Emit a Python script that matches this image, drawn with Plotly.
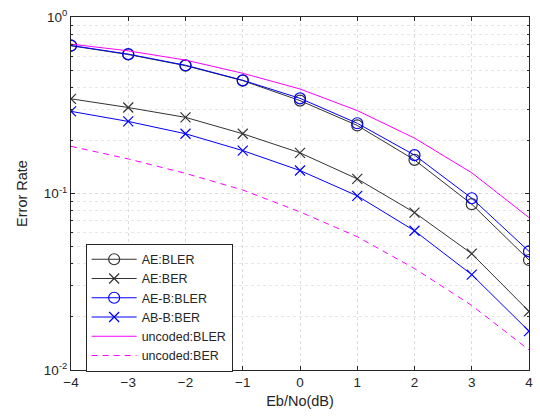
import plotly.graph_objects as go

ebno = [-4, -3, -2, -1, 0, 1, 2, 3, 4]
ae_bler = [0.687, 0.613, 0.530, 0.436, 0.336, 0.243, 0.155, 0.087, 0.042]
ae_ber = [0.344, 0.307, 0.270, 0.218, 0.170, 0.121, 0.078, 0.0456, 0.0215]
aeb_bler = [0.690, 0.616, 0.533, 0.438, 0.346, 0.250, 0.165, 0.094, 0.047]
aeb_ber = [0.292, 0.256, 0.218, 0.175, 0.135, 0.097, 0.0615, 0.0347, 0.0166]
unc_bler = [0.702, 0.643, 0.570, 0.480, 0.391, 0.295, 0.206, 0.131, 0.073]
unc_ber = [0.185, 0.157, 0.130, 0.1047, 0.0787, 0.0569, 0.0376, 0.0232, 0.013]

xticks = [-4, -3, -2, -1, 0, 1, 2, 3, 4]
yticks = [0.01, 0.1, 1]
yticktext = ["10<sup>-2</sup>", "10<sup>-1</sup>", "10<sup>0</sup>"]

black = "#333333"
fig = go.Figure()
fig.add_trace(go.Scatter(x=ebno, y=ae_bler, name="AE:BLER", mode="lines+markers",
                         line=dict(color=black, width=1),
                         marker=dict(symbol="circle-open", size=11, color=black, line=dict(width=1.2))))
fig.add_trace(go.Scatter(x=ebno, y=ae_ber, name="AE:BER", mode="lines+markers",
                         line=dict(color=black, width=1),
                         marker=dict(symbol="x-thin-open", size=10, color=black, line=dict(width=1.2, color=black))))
fig.add_trace(go.Scatter(x=ebno, y=aeb_bler, name="AE-B:BLER", mode="lines+markers",
                         line=dict(color="#0000ff", width=1),
                         marker=dict(symbol="circle-open", size=11, color="#0000ff", line=dict(width=1.2))))
fig.add_trace(go.Scatter(x=ebno, y=aeb_ber, name="AB-B:BER", mode="lines+markers",
                         line=dict(color="#0000ff", width=1),
                         marker=dict(symbol="x-thin-open", size=10, color="#0000ff", line=dict(width=1.2, color="#0000ff"))))
fig.add_trace(go.Scatter(x=ebno, y=unc_bler, name="uncoded:BLER", mode="lines",
                         line=dict(color="#ff00ff", width=1)))
fig.add_trace(go.Scatter(x=ebno, y=unc_ber, name="uncoded:BER", mode="lines",
                         line=dict(color="#ff00ff", width=1, dash="6px,5px")))

font = dict(family="Liberation Sans, Arial, sans-serif", size=13.5, color="#262626")
fig.update_layout(
    width=540, height=418,
    margin=dict(l=71, r=7, t=15, b=48),
    paper_bgcolor="white", plot_bgcolor="white",
    font=font,
    showlegend=True,
    legend=dict(x=0.032, y=0.358, xanchor="left", yanchor="top",
                bordercolor="#262626", borderwidth=1, bgcolor="white",
                font=dict(family="Liberation Sans, Arial, sans-serif", size=12.5, color="#262626"),
                itemwidth=45, tracegroupgap=0),
)
fig.update_xaxes(
    range=[-4, 4], tickvals=xticks, ticks="inside", ticklen=4, tickcolor="#262626",
    showline=True, linecolor="#262626", linewidth=1, mirror="ticks",
    showgrid=True, gridcolor="#dcdcdc", griddash="dot", gridwidth=1, zeroline=False,
    title=dict(text="Eb/No(dB)", standoff=6, font=dict(size=14.5, color="#262626")),
)
fig.update_yaxes(
    type="log", range=[-2, 0], tickvals=yticks, ticktext=yticktext,
    ticks="inside", ticklen=4, tickcolor="#262626",
    showline=True, linecolor="#262626", linewidth=1, mirror="ticks",
    showgrid=True, gridcolor="#dcdcdc", griddash="dot", gridwidth=1, zeroline=False,
    minor=dict(ticks="inside", ticklen=2, tickcolor="#262626", showgrid=True,
               gridcolor="#e6e6e6", griddash="dot",
               tickvals=[k * 10 ** e for e in (-2, -1) for k in range(2, 10)]),
    title=dict(text="Error Rate", standoff=12, font=dict(size=14.5, color="#262626")),
)
fig.write_html("out.html")
